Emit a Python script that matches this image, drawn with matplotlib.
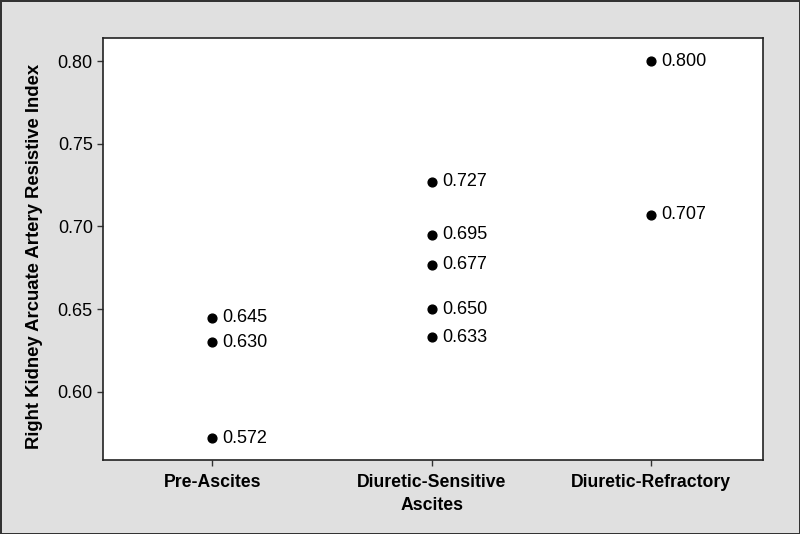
import matplotlib.pyplot as plt

plt.rcParams["font.family"] = ["Liberation Sans", "DejaVu Sans"]

categories = ["Pre-Ascites", "Diuretic-Sensitive\nAscites", "Diuretic-Refractory"]
pre_ascites = [0.645, 0.630, 0.572]
diuretic_sensitive = [0.727, 0.695, 0.677, 0.650, 0.633]
diuretic_refractory = [0.800, 0.707]
y_ticks = [0.60, 0.65, 0.70, 0.75, 0.80]

fig = plt.figure(figsize=(8, 5.34), dpi=100)
fig.patch.set_facecolor("#e0e0e0")
fig.patch.set_edgecolor("#333333")
fig.patch.set_linewidth(2)
ax = fig.add_axes([0.129, 0.1386, 0.825, 0.7902])
ax.set_facecolor("white")

for i, values in enumerate([pre_ascites, diuretic_sensitive, diuretic_refractory]):
    xs = [i] * len(values)
    ax.scatter(xs, values, s=40, color="black", zorder=3)
    for v in values:
        ax.annotate(f"{v:.3f}", (i, v), xytext=(7.5, 0), textcoords="offset points",
                    va="center", ha="left", fontsize=13)

ax.set_xlim(-0.497, 2.51)
ax.set_ylim(0.5589, 0.8139)
ax.set_xticks(range(len(categories)))
ax.set_xticklabels(categories, fontsize=12.7, fontweight="bold", linespacing=1.45)
ax.set_yticks(y_ticks)
ax.set_yticklabels([f"{t:.2f}" for t in y_ticks], fontsize=13)
ax.tick_params(direction="out", length=4, width=1, color="#333333")
ax.tick_params(axis="x", pad=6)
ax.set_ylabel("Right Kidney Arcuate Artery Resistive Index", fontsize=13.3,
              fontweight="bold")
ax.yaxis.set_label_coords(-0.091, 0.483)
for spine in ax.spines.values():
    spine.set_color("#222222")
    spine.set_linewidth(1.2)

fig.savefig("out.png", dpi=100, facecolor=fig.get_facecolor(), edgecolor=fig.get_edgecolor())
